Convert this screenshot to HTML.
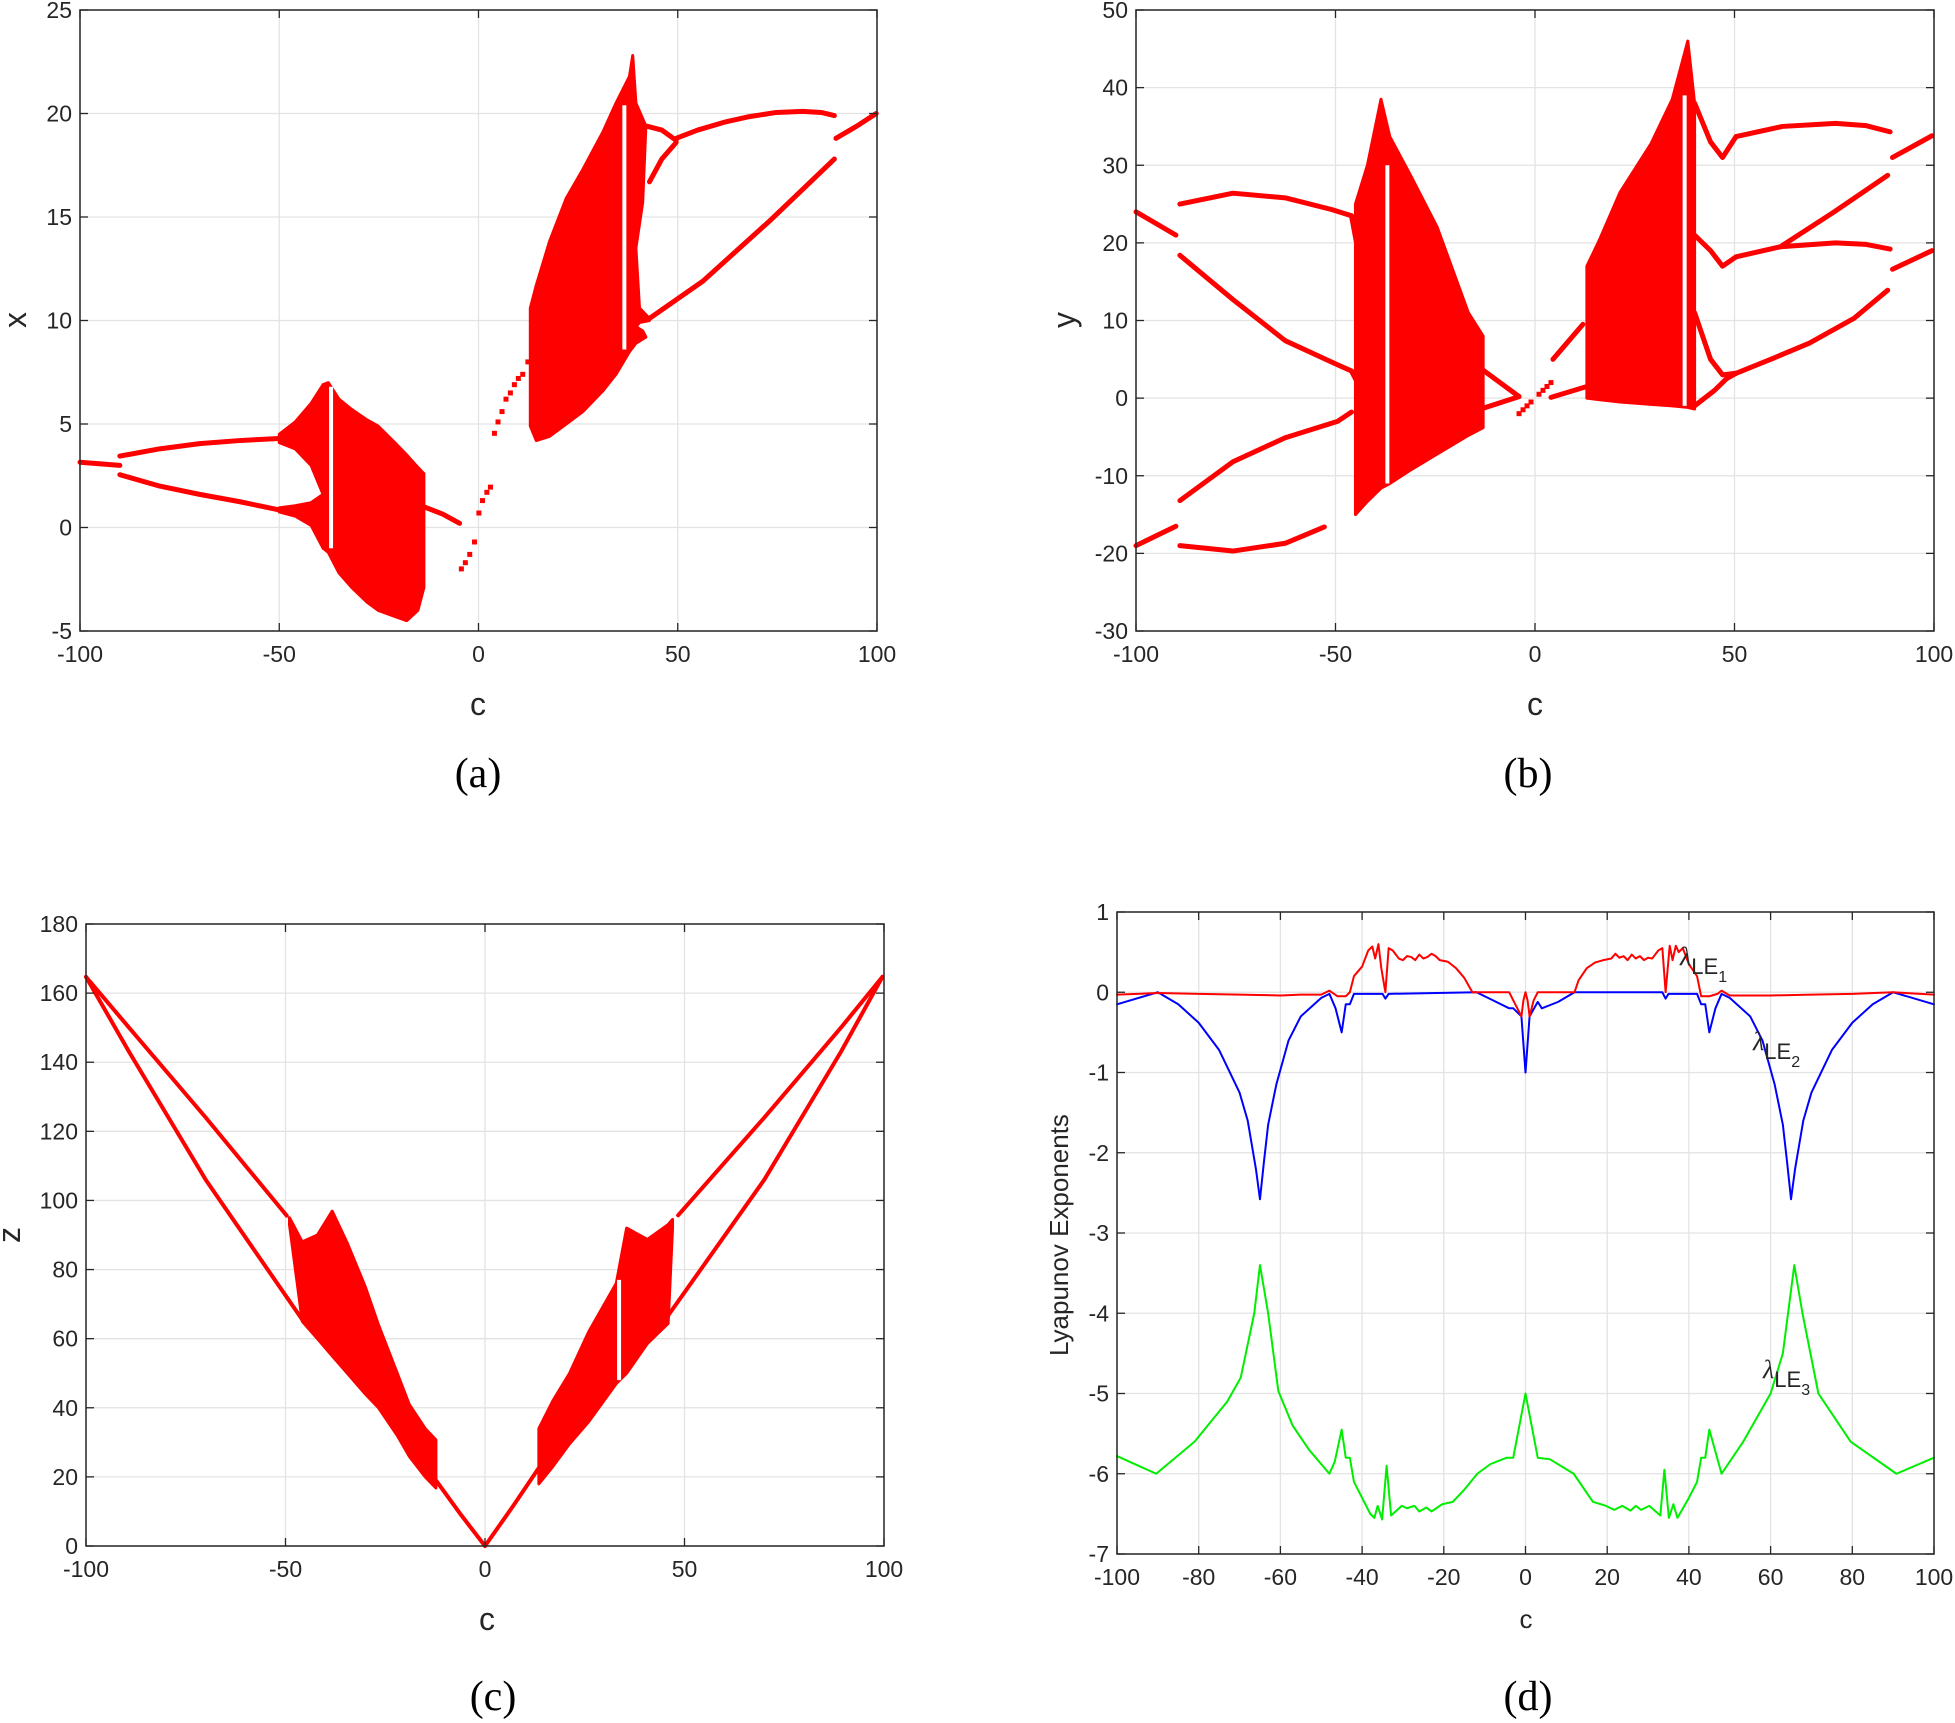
<!DOCTYPE html>
<html><head><meta charset="utf-8">
<style>
html,body{margin:0;padding:0;background:#fff;}
svg{display:block;}
text{font-family:"Liberation Sans",sans-serif;fill:#262626;}
.cap{font-family:"Liberation Serif",serif;font-size:42px;fill:#000;}
</style></head>
<body>
<svg id="fig" width="1955" height="1723" viewBox="0 0 1955 1723" xmlns="http://www.w3.org/2000/svg"></svg>
<script>
// ---------- Panel (a): x vs c ----------
const aTicksX=[-100,-50,0,50,100];
const aTicksY=[-5,0,5,10,15,20,25];
const aBand1C=[-50,-46,-42,-39];const aBand1Hi=[4.5,5.1,6.0,6.9];const aBand1Lo=[4.1,3.8,3.0,1.6];
const aBand2C=[-50,-46,-42,-39];const aBand2Hi=[0.95,1.05,1.2,1.6];const aBand2Lo=[0.75,0.55,0.1,-1.0];
const aBand3C=[-39,-37.7,-35,-31.8,-28,-25.2,-21,-18,-15.2,-13.7];
const aBand3Hi=[6.9,7.0,6.2,5.7,5.2,4.9,4.1,3.5,2.9,2.6];
const aBand3Lo=[-1.0,-1.2,-2.2,-2.9,-3.6,-4.0,-4.3,-4.5,-4.0,-2.9];
const aBand4C=[13,14.5,17.8,22,26.2,31.2,34.5,37.9,38.7,39.5,42,41.2,39.5,40.4,42.9];
const aBand4Hi=[10.6,11.7,13.8,15.9,17.3,19.1,20.5,21.8,22.8,20.5,19.4,15.7,13.5,10.6,10.1];
const aBand4Lo=[4.9,4.2,4.4,5.0,5.6,6.6,7.4,8.5,8.7,8.9,9.2,9.5,9.7,9.9,10.0];
const aLines=[
 {c:[-100,-90],v:[3.15,3.0]},
 {c:[-90,-80,-70,-60,-50],v:[3.45,3.8,4.05,4.2,4.3]},
 {c:[-90,-80,-70,-60,-50],v:[2.55,2.0,1.6,1.25,0.85]},
 {c:[-13.7,-9,-4.75],v:[1.0,0.65,0.2]},
 {c:[42,46,49.6],v:[19.4,19.2,18.7]},
 {c:[42.9,46,49.6],v:[16.7,17.8,18.6]},
 {c:[49.6,55,62.1,68,74.7,81.4,86,89.3],v:[18.8,19.2,19.6,19.85,20.05,20.1,20.05,19.9]},
 {c:[42.9,56.3,73,89.3],v:[10.1,11.9,14.8,17.8]},
 {c:[89.7,95,99.8],v:[18.8,19.4,20.0]}
];
const aDotsC=[-4.3,-3.3,-2.2,-1.0,0.1,1.0,2.1,3.0,4.0,4.9,5.9,6.9,8,9,10,11.1,12.4];
const aDotsV=[-2.0,-1.7,-1.3,-0.7,0.7,1.3,1.7,1.95,4.55,5.1,5.6,6.2,6.5,6.9,7.2,7.4,8.0];
const aGaps=[{c:-37,lo:-1.0,hi:6.8},{c:36.6,lo:8.6,hi:20.4}];

// ---------- Panel (b): y vs c ----------
const bTicksX=[-100,-50,0,50,100];
const bTicksY=[-30,-20,-10,0,10,20,30,40,50];
const bBand1C=[-45,-42,-38.6,-36.4,-31,-24.5,-16.7,-13];
const bBand1Hi=[25,30,38.5,33.7,28.5,22,11,8];
const bBand1Lo=[-15,-13.3,-11.6,-11,-9.2,-7.2,-4.8,-3.8];
const bBand2C=[13,16,21.3,29.1,34.4,38.3,40];
const bBand2Hi=[17,20.2,26.5,32.8,38.5,46,38];
const bBand2Lo=[0,-0.2,-0.5,-0.8,-1.0,-1.2,-1.4];
const bLines=[
 {c:[-100,-90],v:[24,21]},
 {c:[-100,-90],v:[-19,-16.5]},
 {c:[-89,-75.7,-62.6,-51,-46],v:[25,26.4,25.8,24.3,23.5]},
 {c:[-46,-44,-41],v:[23.5,18,12]},
 {c:[-89,-75.7,-62.6,-49.5,-46],v:[18.4,12.7,7.4,4.3,3.5]},
 {c:[-46,-43,-40],v:[3.5,0.5,-0.5]},
 {c:[-89,-75.7,-62.6,-49.5,-46],v:[-13.2,-8.2,-5.1,-3,-1.8]},
 {c:[-89,-75.7,-62.6,-52.8],v:[-19,-19.7,-18.7,-16.6]},
 {c:[-13,-4],v:[3.6,0.2]},
 {c:[-13,-4],v:[-1.3,0.2]},
 {c:[4,13],v:[0.1,1.5]},
 {c:[4.5,12],v:[5,9.5]},
 {c:[40,44,47,50.4],v:[38,33,31,33.7]},
 {c:[40,44,47,50.4],v:[21,19,17,18.2]},
 {c:[40,44,47,50.4],v:[11,5,3,3.2]},
 {c:[40,45,48,50.4],v:[-1,1,2.5,3.2]},
 {c:[50.4,62,75.3,83,89],v:[33.7,35,35.4,35.1,34.3]},
 {c:[50.4,61.5,75.3,83,89],v:[18.2,19.5,20,19.8,19.2]},
 {c:[61.5,75,88.4],v:[19.5,24,28.7]},
 {c:[50.4,60,68.8,80,88.4],v:[3.2,5.2,7.1,10.3,13.9]},
 {c:[89.6,99.5],v:[31,33.8]},
 {c:[89.6,99.5],v:[16.6,19]}
];
const bDotsC=[-4,-3,-2,-1,1,2,3,4];
const bDotsV=[-2,-1.5,-1,-0.5,0.5,1,1.5,2];
const bGaps=[{c:-37,lo:-11,hi:30},{c:37.5,lo:-1,hi:39}];

// ---------- Panel (c): z vs c ----------
const cTicksX=[-100,-50,0,50,100];
const cTicksY=[0,20,40,60,80,100,120,140,160,180];
const cBand1C=[-49,-45.8,-42,-38.3,-34.5,-30,-26.7,-22,-19,-15,-12.3];
const cBand1Hi=[95,88,90,96.9,87.6,75,64,50,41,34,30.7];
const cBand1Lo=[93,65,60,55,50,44,40,32,26,20,16.8];
const cBand2C=[13.5,17,21.2,26,32.9,35.5,40.7,45.9,47];
const cBand2Hi=[34,42,50,62,76,92,88.7,93,94.5];
const cBand2Lo=[18,23,29.6,36,47,50,58.6,64.4,92];
const cLines=[
 {c:[-100,-89.2,-70,-49.7],v:[164.7,150,124,95.6]},
 {c:[-100,-89.2,-70,-45.8],v:[164.7,143,106,65.5]},
 {c:[-12.3,-6,0],v:[19,9,0]},
 {c:[0,7,13.5],v:[0,11.5,22.6]},
 {c:[48.4,70,89.2,99.6],v:[95.7,124,150,164.7]},
 {c:[45.9,70,89.2,99.6],v:[66.7,106,143,164.7]}
];
const cGaps=[{c:33.6,lo:48,hi:77}];

// ---------- Panel (d): Lyapunov exponents ----------
const dTicksX=[-100,-80,-60,-40,-20,0,20,40,60,80,100];
const dTicksY=[-7,-6,-5,-4,-3,-2,-1,0,1];
const le1C=[-100,-90,-80,-70,-60,-55,-50,-48,-46,-44,-43,-42,-40,-38.5,-37.5,-36.8,-36,-35.3,-34.3,-33.5,-32.5,-31,-30,-29,-28,-27,-26,-25,-24,-23,-22,-21,-19,-17,-15,-13,-4,-3,-1,-0.5,0,0.5,1,2,3,12,13,15,17,19,21,22,23,24,25,26,27,28,29,30,31,32.5,33.5,34.3,35.3,36,36.8,37.5,38.5,40,42,43,45,47,48,50,60,70,80,90,100];
const le1V=[-0.03,-0.01,-0.02,-0.03,-0.04,-0.03,-0.03,0.02,-0.05,-0.05,0,0.2,0.32,0.52,0.57,0.42,0.6,0.3,0,0.55,0.52,0.42,0.4,0.45,0.44,0.4,0.47,0.42,0.44,0.48,0.45,0.4,0.38,0.3,0.18,0,0,-0.1,-0.3,-0.1,0,-0.1,-0.3,-0.1,0,0,0.15,0.3,0.37,0.4,0.42,0.48,0.43,0.45,0.4,0.47,0.42,0.45,0.4,0.43,0.42,0.52,0.55,0,0.58,0.4,0.58,0.5,0.55,0.35,0.2,-0.05,-0.05,-0.02,0.02,-0.04,-0.04,-0.03,-0.02,0,-0.03];
const le2C=[-100,-90,-85,-80,-75,-70,-68,-66,-65,-64,-63,-61,-58,-55,-50,-48,-46.5,-45,-44,-43,-42,-35,-34.3,-33.5,-12,-8,-4,-3,-1,0,1,3,4,8,12,33.5,34.3,35,42,43,44,45,46.5,48,50,55,58,61,63,64,65,66,68,70,75,80,85,90,100];
const le2V=[-0.15,0,-0.15,-0.38,-0.72,-1.25,-1.6,-2.2,-2.58,-2.1,-1.65,-1.15,-0.6,-0.3,-0.07,-0.02,-0.2,-0.5,-0.15,-0.15,-0.02,-0.02,-0.08,-0.02,0,-0.1,-0.2,-0.2,-0.3,-1.0,-0.3,-0.12,-0.2,-0.12,0,0,-0.08,-0.02,-0.02,-0.15,-0.15,-0.5,-0.2,-0.02,-0.07,-0.3,-0.6,-1.15,-1.65,-2.1,-2.58,-2.2,-1.6,-1.25,-0.72,-0.38,-0.15,0,-0.15];
const le3C=[-100,-90.4,-81,-73,-69.7,-66.4,-65,-63,-60.5,-57,-53,-48,-46.7,-45,-44,-43,-42,-40,-38,-37,-36.2,-35.1,-34,-32.9,-30.3,-29,-27.2,-26,-24.3,-23,-20.4,-17.8,-15,-11.8,-8.6,-4.6,-3,0,3,6,11.8,16.5,19.7,21.7,23.7,25.7,27,28.3,30.3,33,34,35.1,36.2,37.2,40,42,43,44,45,48,53.3,60,63,65.8,67.8,71.7,79.6,90.8,100];
const le3V=[-5.78,-6.0,-5.6,-5.1,-4.8,-4.0,-3.4,-4.0,-4.97,-5.4,-5.7,-6.0,-5.85,-5.45,-5.8,-5.8,-6.1,-6.3,-6.5,-6.55,-6.4,-6.57,-5.9,-6.52,-6.4,-6.43,-6.4,-6.47,-6.42,-6.47,-6.38,-6.35,-6.2,-6.0,-5.88,-5.8,-5.8,-5.0,-5.8,-5.82,-6.0,-6.35,-6.4,-6.45,-6.4,-6.46,-6.4,-6.45,-6.4,-6.52,-5.95,-6.55,-6.38,-6.55,-6.3,-6.1,-5.8,-5.8,-5.45,-6.0,-5.6,-5.0,-4.5,-3.4,-4.0,-5.0,-5.6,-6.0,-5.8];

const NS="http://www.w3.org/2000/svg";
const svg=document.getElementById('fig');
function el(tag,attrs,parent){const e=document.createElementNS(NS,tag);for(const k in attrs)e.setAttribute(k,attrs[k]);(parent||svg).appendChild(e);return e;}

function panel(name,box,xr,yr,xt,yt){
  const g=el('g',{});
  
  
  const sx=v=>box.x+(v-xr[0])/(xr[1]-xr[0])*box.w;
  const sy=v=>box.y+box.h-(v-yr[0])/(yr[1]-yr[0])*box.h;
  const grid=el('g',{},g);
  
  
  xt.forEach(t=>{el('line',{x1:sx(t),x2:sx(t),y1:box.y,y2:box.y+box.h,stroke:'#e3e3e3','stroke-width':1.3},grid);});
  yt.forEach(t=>{el('line',{x1:box.x,x2:box.x+box.w,y1:sy(t),y2:sy(t),stroke:'#e3e3e3','stroke-width':1.3},grid);});
  const data=el('g',{},g);
  
  
  const axes=el('g',{},g);
  
  
  el('rect',{x:box.x,y:box.y,width:box.w,height:box.h,fill:'none',stroke:'#262626','stroke-width':1.5},axes);
  xt.forEach(t=>{
    el('line',{x1:sx(t),x2:sx(t),y1:box.y+box.h,y2:box.y+box.h-8,stroke:'#262626','stroke-width':1.3},axes);
    el('line',{x1:sx(t),x2:sx(t),y1:box.y,y2:box.y+8,stroke:'#262626','stroke-width':1.3},axes);
    const tx=el('text',{x:sx(t),y:box.y+box.h+31,'font-size':23,'text-anchor':'middle'},axes);
    tx.textContent=t;
    
    
  });
  yt.forEach(t=>{
    el('line',{x1:box.x,x2:box.x+8,y1:sy(t),y2:sy(t),stroke:'#262626','stroke-width':1.3},axes);
    el('line',{x1:box.x+box.w,x2:box.x+box.w-8,y1:sy(t),y2:sy(t),stroke:'#262626','stroke-width':1.3},axes);
    const ty=el('text',{x:box.x-8,y:sy(t)+8,'font-size':23,'text-anchor':'end'},axes);
    ty.textContent=t;
    
    
  });
  return {sx,sy,data,g};
}
function band(P,C,H,L,name){
  let pts=C.map((c,i)=>P.sx(c)+','+P.sy(H[i]));
  for(let i=C.length-1;i>=0;i--)pts.push(P.sx(C[i])+','+P.sy(L[i]));
  const p=el('polygon',{points:pts.join(' '),fill:'#ff0000',stroke:'#ff0000','stroke-width':3,'stroke-linejoin':'round'},P.data);
  
  
}
function line(P,C,V,name,color,w){
  const p=el('polyline',{points:C.map((c,i)=>P.sx(c)+','+P.sy(V[i])).join(' '),fill:'none',stroke:color,'stroke-width':w,'stroke-linejoin':'round','stroke-linecap':'round'},P.data);
  
  
}
function dots(P,C,V,name){
  C.forEach((c,i)=>{
    const d=el('rect',{x:P.sx(c)-2.5,y:P.sy(V[i])-2.5,width:5,height:5,fill:'#ff0000'},P.data);
    
    
  });
}
function gap(P,g){
  const l=el('line',{x1:P.sx(g.c),x2:P.sx(g.c),y1:P.sy(g.lo),y2:P.sy(g.hi),stroke:'#fff','stroke-width':4},P.data);
  
  
}
function label(txt,x,y,size,rot,name,cls){
  const t=el('text',{x:x,y:y,'font-size':size,'text-anchor':'middle'});
  if(cls)t.setAttribute('class',cls);
  if(rot)t.setAttribute('transform','rotate(-90 '+x+' '+y+')');
  t.textContent=txt;
  
  
  return t;
}

// Panel a
const A=panel('panel-a',{x:80,y:10,w:797,h:621},[-100,100],[-5,25],aTicksX,aTicksY);
band(A,aBand1C,aBand1Hi,aBand1Lo,'chaos-band');
band(A,aBand2C,aBand2Hi,aBand2Lo,'chaos-band');
band(A,aBand3C,aBand3Hi,aBand3Lo,'chaos-band');
band(A,aBand4C,aBand4Hi,aBand4Lo,'chaos-band');
aLines.forEach(l=>line(A,l.c,l.v,'periodic-branch','#ff0000',5));
dots(A,aDotsC,aDotsV,'periodic-point');
aGaps.forEach(g=>gap(A,g));
label('c',478,715,32,false,'x-axis-title');
label('x',26,320,32,true,'y-axis-title');
label('(a)',478,787,44,false,'caption-a','cap');

// Panel b
const B=panel('panel-b',{x:1136,y:10,w:798,h:621},[-100,100],[-30,50],bTicksX,bTicksY);
band(B,bBand1C,bBand1Hi,bBand1Lo,'chaos-band');
band(B,bBand2C,bBand2Hi,bBand2Lo,'chaos-band');
bLines.forEach(l=>line(B,l.c,l.v,'periodic-branch','#ff0000',5));
dots(B,bDotsC,bDotsV,'periodic-point');
bGaps.forEach(g=>gap(B,g));
label('c',1535,715,32,false,'x-axis-title');
label('y',1075,320,32,true,'y-axis-title');
label('(b)',1528,787,44,false,'caption-b','cap');

// Panel c
const Cp=panel('panel-c',{x:86,y:924,w:798,h:622},[-100,100],[0,180],cTicksX,cTicksY);
band(Cp,cBand1C,cBand1Hi,cBand1Lo,'chaos-band');
band(Cp,cBand2C,cBand2Hi,cBand2Lo,'chaos-band');
cLines.forEach(l=>line(Cp,l.c,l.v,'periodic-branch','#ff0000',4));
cGaps.forEach(g=>gap(Cp,g));
label('c',487,1630,32,false,'x-axis-title');
label('z',20,1235,32,true,'y-axis-title');
label('(c)',493,1710,44,false,'caption-c','cap');

// Panel d
const D=panel('panel-d',{x:1117,y:912,w:817,h:642},[-100,100],[-7,1],dTicksX,dTicksY);
line(D,le3C,le3V,'lyapunov-le3-line','#00ee00',2);
line(D,le2C,le2V,'lyapunov-le2-line','#0000ff',2);
line(D,le1C,le1V,'lyapunov-le1-line','#ff0000',2);
label('c',1526,1628,26,false,'x-axis-title');
label('Lyapunov Exponents',1068,1235,26,true,'y-axis-title');
label('(d)',1528,1710,44,false,'caption-d','cap');
function leLabel(x,y,sub,name){
  const t=el('text',{x:x,y:y,'font-size':26});
  
  
  const s1=el('tspan',{'font-family':'Liberation Serif','font-style':'italic'},t);s1.textContent='λ';
  const s2=el('tspan',{dy:9,'font-size':22},t);s2.textContent='LE';
  const s3=el('tspan',{dy:8,'font-size':16},t);s3.textContent=sub;
}
leLabel(1680,965,'1','le1-annotation');
leLabel(1753,1050,'2','le2-annotation');
leLabel(1763,1378,'3','le3-annotation');
</script>
</body></html>
